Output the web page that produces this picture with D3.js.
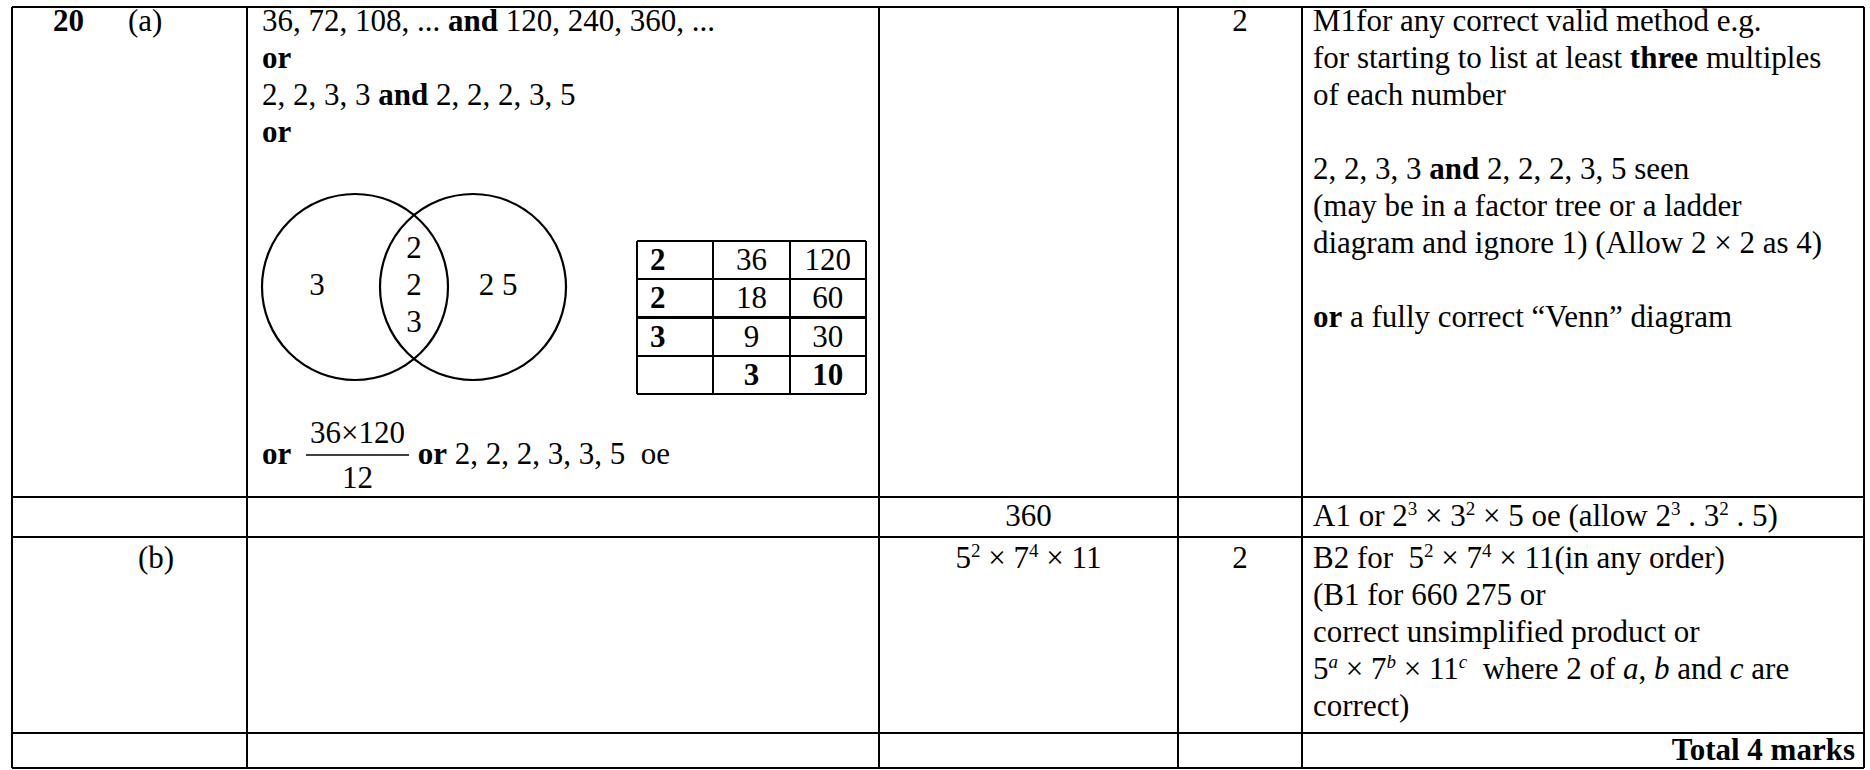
<!DOCTYPE html>
<html>
<head>
<meta charset="utf-8">
<script src="https://cdn.jsdelivr.net/npm/d3@7"></script>
<style>
  body { margin: 0; background: #fff; }
  text { font-family: "Liberation Serif", "Times New Roman", serif; font-size: 31px; fill: #000; white-space: pre; }
</style>
</head>
<body>
<svg id="sheet" width="1870" height="770"></svg>
<script>
// ---- content (markup: **bold**, _italic_, ^superscript^) ----
const questionNo = "20";
const partLabels = ["(a)", "(b)"];
const workingLines = [
  "36, 72, 108, ... **and** 120, 240, 360, ...",
  "**or**",
  "2, 2, 3, 3 **and** 2, 2, 2, 3, 5",
  "**or**"
];
const vennOnlyA = ["3"];
const vennBoth = ["2", "2", "3"];
const vennOnlyB = ["2 5"];
const ladderDivisors = ["2", "2", "3", ""];
const ladderFirst = ["36", "18", "9", "3"];
const ladderSecond = ["120", "60", "30", "10"];
const fractionTop = "36×120";
const fractionBottom = "12";
const fractionTail = " **or** 2, 2, 2, 3, 3, 5  oe";
const answers = ["", "360", "5^2^ × 7^4^ × 11"];
const marks = ["2", "", "2"];
const notesA = [
  "M1for any correct valid method e.g.",
  "for starting to list at least **three** multiples",
  "of each number",
  "",
  "2, 2, 3, 3 **and** 2, 2, 2, 3, 5 seen",
  "(may be in a factor tree or a ladder",
  "diagram and ignore 1) (Allow 2 × 2 as 4)",
  "",
  "**or** a fully correct “Venn” diagram"
];
const notesA1 = ["A1 or 2^3^ × 3^2^ × 5 oe (allow 2^3^ . 3^2^ . 5)"];
const notesB = [
  "B2 for  5^2^ × 7^4^ × 11(in any order)",
  "(B1 for 660 275 or",
  "correct unsimplified product or",
  "5^_a_^ × 7^_b_^ × 11^_c_^  where 2 of _a_, _b_ and _c_ are",
  "correct)"
];
const totalLabel = "**Total 4 marks**";

// ---- layout ----
const svg = d3.select("#sheet");
const LINE = 37;
const colX = d3.scaleOrdinal()
  .domain(["left", "work", "answer", "mark", "notes", "right"])
  .range([12, 247, 879, 1178, 1302, 1864]);
const rowY = d3.scaleOrdinal()
  .domain(["a", "a1", "b", "total", "bottom"])
  .range([7, 497, 537, 733, 768]);
const rowKeys = ["a", "a1", "b"];
const firstBase = d3.scaleOrdinal().domain(rowKeys.concat("total")).range([31, 526, 568, 760]);

function addRich(g, str, x, y, anchor) {
  const t = g.append("text").attr("x", x).attr("y", y).attr("text-anchor", anchor || "start");
  let shifted = false;
  str.split(/(\*\*.+?\*\*|\^.+?\^|_.+?_)/).filter(s => s.length).forEach(tok => {
    let s = tok, bold = false, ital = false, sup = false;
    if (s.startsWith("**")) { s = s.slice(2, -2); bold = true; }
    else if (s.startsWith("^")) { s = s.slice(1, -1); sup = true; }
    if (s.length > 2 && s.startsWith("_") && s.endsWith("_")) { s = s.slice(1, -1); ital = true; }
    const ts = t.append("tspan").text(s);
    if (bold) ts.attr("font-weight", "bold");
    if (ital) ts.attr("font-style", "italic");
    if (sup) {
      ts.attr("font-size", 19);
      if (!shifted) { ts.attr("dy", -11); shifted = true; }
    } else if (shifted) {
      ts.attr("dy", 11); shifted = false;
    }
  });
  return t;
}

function addLines(g, lines, x, y0, anchor) {
  lines.forEach((l, i) => { if (l) addRich(g, l, x, y0 + i * LINE, anchor); });
}

// ---- grid ----
const grid = svg.append("g").attr("stroke", "#000").attr("stroke-width", 2.2)
  .attr("shape-rendering", "crispEdges");
colX.domain().forEach(c => {
  grid.append("line").attr("x1", colX(c)).attr("x2", colX(c))
    .attr("y1", rowY("a")).attr("y2", rowY("bottom"));
});
rowY.domain().forEach(r => {
  grid.append("line").attr("x1", colX("left")).attr("x2", colX("right"))
    .attr("y1", rowY(r)).attr("y2", rowY(r));
});

const txt = svg.append("g");

// question / part labels
addRich(txt, "**" + questionNo + "**", 53, firstBase("a"));
addRich(txt, partLabels[0], 128, firstBase("a"));
addRich(txt, partLabels[1], 138, firstBase("b"));

// working column
const padWork = 15;
addLines(txt, workingLines, colX("work") + padWork, firstBase("a"));

// venn diagram
const venn = { ax: 355, bx: 473, cy: 287, r: 93 };
const vg = svg.append("g");
[venn.ax, venn.bx].forEach(cx => {
  vg.append("circle").attr("cx", cx).attr("cy", venn.cy).attr("r", venn.r)
    .attr("fill", "none").attr("stroke", "#000").attr("stroke-width", 2.2);
});
const stackY = d3.scalePoint().domain(d3.range(vennBoth.length)).range([venn.cy - 29, venn.cy + 45]);
vennOnlyA.forEach(v => addRich(vg, v, 317, venn.cy + 8, "middle"));
vennBoth.forEach((v, i) => addRich(vg, v, (venn.ax + venn.bx) / 2, stackY(i), "middle"));
vennOnlyB.forEach(v => addRich(vg, v, 498, venn.cy + 8, "middle"));

// ladder table
const lx = d3.scaleLinear().domain([0, 3]).range([637, 866]);
const ly = d3.scaleLinear().domain([0, 4]).range([241, 394]);
const lg = svg.append("g");
const lgLines = lg.append("g").attr("stroke", "#000").attr("stroke-width", 2.2).attr("shape-rendering", "crispEdges");
d3.range(4).forEach(i => lgLines.append("line").attr("x1", lx(i)).attr("x2", lx(i)).attr("y1", ly(0)).attr("y2", ly(4)));
d3.range(5).forEach(i => lgLines.append("line").attr("x1", lx(0)).attr("x2", lx(3)).attr("y1", ly(i)).attr("y2", ly(i)));
ladderDivisors.forEach((d, i) => { if (d) addRich(lg, "**" + d + "**", lx(0) + 13, ly(i) + 29); });
ladderFirst.forEach((d, i) => {
  const last = i === ladderFirst.length - 1;
  addRich(lg, last ? "**" + d + "**" : d, (lx(1) + lx(2)) / 2, ly(i) + 29, "middle");
});
ladderSecond.forEach((d, i) => {
  const last = i === ladderSecond.length - 1;
  addRich(lg, last ? "**" + d + "**" : d, (lx(2) + lx(3)) / 2, ly(i) + 29, "middle");
});

// fraction line
const fy = 464;
addRich(txt, "**or**", colX("work") + padWork, fy);
const fx0 = 306, fx1 = 409;
txt.append("line").attr("x1", fx0).attr("x2", fx1).attr("y1", fy - 9).attr("y2", fy - 9)
  .attr("stroke", "#000").attr("stroke-width", 1.6);
addRich(txt, fractionTop, (fx0 + fx1) / 2, fy - 21, "middle");
addRich(txt, fractionBottom, (fx0 + fx1) / 2, fy + 24, "middle");
addRich(txt, fractionTail, fx1 + 1, fy);

// answers and marks
const ansMid = (colX("answer") + colX("mark")) / 2;
const markMid = (colX("mark") + colX("notes")) / 2;
rowKeys.forEach((r, i) => {
  if (answers[i]) addRich(txt, answers[i], ansMid, firstBase(r), "middle");
  if (marks[i]) addRich(txt, marks[i], markMid, firstBase(r), "middle");
});

// notes
const padNotes = 11;
addLines(txt, notesA, colX("notes") + padNotes, firstBase("a"));
addLines(txt, notesA1, colX("notes") + padNotes, firstBase("a1"));
addLines(txt, notesB, colX("notes") + padNotes, firstBase("b"));
addRich(txt, totalLabel, colX("right") - 9, firstBase("total"), "end");
</script>
</body>
</html>
